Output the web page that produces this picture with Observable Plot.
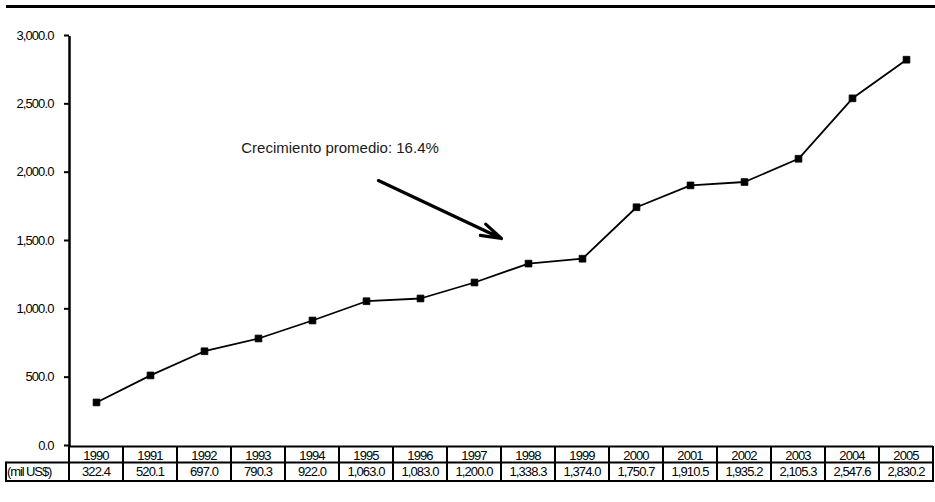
<!DOCTYPE html>
<html><head><meta charset="utf-8">
<script src="https://cdn.jsdelivr.net/npm/d3@7"></script>
<script src="https://cdn.jsdelivr.net/npm/@observablehq/plot@0.6"></script>
<style>
body{margin:0;background:#fff;}
#wrap{position:relative;width:935px;height:502px;}
#rule{position:absolute;left:6px;right:0;top:5px;height:3px;background:#000;}
#wrap svg{position:absolute;left:0;top:0;}
</style></head><body><div id="wrap"><div id="rule"></div></div>
<script>
const years = [1990,1991,1992,1993,1994,1995,1996,1997,1998,1999,2000,2001,2002,2003,2004,2005];
const values = [322.4,520.1,697.0,790.3,922.0,1063.0,1083.0,1200.0,1338.3,1374.0,1750.7,1910.5,1935.2,2105.3,2547.6,2830.2];
const yTicks = [0,500,1000,1500,2000,2500,3000];
const unitLabel = "(mil US$)";
const noteText = "Crecimiento promedio: 16.4%";
const notePos = [{x: 1992.68, y: 2184}];
const arrowSeg = [{x1: 1995.22, y1: 1946, x2: 1997.5, y2: 1522}];

const font = "'Liberation Sans', Arial, Helvetica, sans-serif";
const fmt = d3.format(",.1f");
const data = years.map((year, i) => ({year, value: values[i]}));

function tableMark(index, scales) {
  const x = scales.x, y = scales.y;
  const g = d3.create("svg:g").attr("font-family", font).attr("font-size", 13)
    .attr("letter-spacing", "-0.9px").attr("fill", "black");
  const y0 = y(0), r1 = y0 + 16.5, r2 = y0 + 35;
  const xR = x(years[years.length - 1] + 0.5);
  const labelLeft = 6;
  const line = (a, b, c, d, w) => g.append("line").attr("x1", a).attr("y1", b).attr("x2", c).attr("y2", d)
    .attr("stroke", "black").attr("stroke-width", w);
  line(labelLeft, r1, xR + 1, r1, 2);
  line(labelLeft, r2, xR + 1, r2, 2);
  line(labelLeft, r1 - 1, labelLeft, r2 + 1, 2);
  years.forEach(yr => line(x(yr - 0.5), y0, x(yr - 0.5), r2 + 1, 2));
  line(xR, y0, xR, r2 + 1, 2);
  years.forEach((yr, i) => {
    g.append("text").attr("x", x(yr)).attr("y", (y0 + r1) / 2 + 1).attr("text-anchor", "middle")
      .attr("dominant-baseline", "central").text(String(yr));
    g.append("text").attr("x", x(yr)).attr("y", (r1 + r2) / 2).attr("text-anchor", "middle")
      .attr("dominant-baseline", "central").text(fmt(values[i]));
  });
  g.append("text").attr("x", labelLeft + 1).attr("y", (r1 + r2) / 2).attr("text-anchor", "start")
    .attr("letter-spacing", "-1.1px").attr("dominant-baseline", "central").text(unitLabel);
  return g.node();
}

const chart = Plot.plot({
  width: 935, height: 502,
  marginLeft: 69, marginRight: 2, marginTop: 36, marginBottom: 56,
  style: {fontFamily: font, fontSize: "13px", background: "transparent", color: "black"},
  x: {domain: [1989.5, 2005.5], axis: null},
  y: {domain: [0, 3000]},
  marks: [
    Plot.axisY(yTicks, {tickSize: 5, tickPadding: 11, tickFormat: fmt, strokeWidth: 2, fontSize: 13, dy: -1}),
    Plot.ruleX([1989.5], {y1: 0, y2: 3000, strokeWidth: 2.5}),
    Plot.ruleY([0], {x1: 1989.5, x2: 2005.5, strokeWidth: 2}),
    Plot.line(data, {x: "year", y: "value", stroke: "black", strokeWidth: 1.8}),
    Plot.dot(data, {x: "year", y: "value", symbol: "square", r: 3.8, fill: "black", stroke: "black", strokeWidth: 0.8, strokeLinejoin: "round"}),
    Plot.text(notePos, {x: "x", y: "y", text: () => noteText, textAnchor: "start",
      fontFamily: font, fontSize: 15, fill: "#1a1a1a"}),
    Plot.arrow(arrowSeg, {x1: "x1", y1: "y1", x2: "x2", y2: "y2", strokeWidth: 3.2, headLength: 10, headAngle: 34, stroke: "black"}),
    tableMark
  ]
});
chart.querySelectorAll('g[aria-label="y-axis tick label"] text').forEach(t => t.setAttribute("letter-spacing", "-0.9px"));
document.getElementById("wrap").appendChild(chart);
</script>
</body></html>
